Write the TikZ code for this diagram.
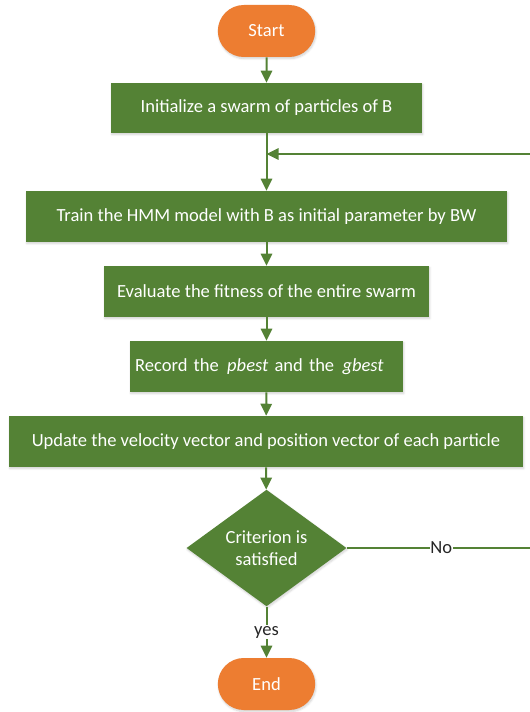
\documentclass[tikz,border=0pt]{standalone}
\usepackage{fontspec}
\setmainfont{Carlito}
\usetikzlibrary{arrows.meta,shapes.misc,shapes.geometric,shadows.blur}
\definecolor{stepgreen}{HTML}{548235}
\definecolor{termorange}{HTML}{ED7D31}
\definecolor{labelgray}{HTML}{262626}
\tikzset{
  softshadow/.style={blur shadow={shadow xshift=0.6pt, shadow yshift=-1.2pt,
      shadow blur radius=1.5pt, shadow blur steps=6, shadow opacity=18}},
  basetext/.style={font=\fontsize{13.9}{16.5}\selectfont, text=white},
  terminal/.style={basetext, rounded rectangle, fill=termorange, draw=none,
      minimum width=73pt, minimum height=39pt, inner sep=0pt, softshadow},
  process/.style={basetext, rectangle, fill=stepgreen, draw=none,
      minimum height=38.25pt, inner sep=0pt, softshadow},
  decision/.style={basetext, diamond, fill=stepgreen, draw=none, align=center,
      minimum width=120pt, minimum height=72.75pt, inner sep=0pt, softshadow},
  flow/.style={draw=stepgreen, line width=1.5pt,
      -{Triangle[width=8.5pt,length=9pt]}},
  plainflow/.style={draw=stepgreen, line width=1.5pt},
  branchlabel/.style={font=\fontsize{13.9}{16.5}\selectfont, text=labelgray,
      fill=white, inner sep=1pt}
}
\begin{document}
\begin{tikzpicture}[x=0.75pt,y=-0.75pt]
  \useasboundingbox (0,0) rectangle (530,712);
  \clip (0,0) rectangle (530,712);

  % flowchart steps
  \node[terminal] (start) at (266.5,31) {Start};
  \node[process, minimum width=233.25pt, minimum height=37.5pt] (init) at (266.5,108)
    {Initialize a swarm of particles of B};
  \node[process, minimum width=360.75pt] (train) at (266.5,216.5)
    {Train the HMM model with B as initial parameter by BW};
  \node[process, minimum width=243.75pt] (eval) at (266.5,291.5)
    {Evaluate the fitness of the entire swarm};
  \node[process, minimum width=204.75pt, text width=197pt, align=left,
        inner xsep=3.9pt] (record) at (266.5,366.5)
    {Record the\hspace{0.45em}\textit{pbest} and the\hspace{0.45em}\textit{gbest}};
  \node[process, minimum width=385.5pt] (update) at (266,441.5)
    {Update the velocity vector and position vector of each particle};
  \node[decision] (crit) at (266.5,548) {Criterion is\\satisfied};
  \node[terminal] (end) at (266.5,684) {End};

  % loop-back route on the right
  \coordinate (turn) at (534,548);
  \coordinate (top) at (534,154);
  \coordinate (join) at (266.5,154);

  % connectors
  \draw[flow] (start) -- (init);
  \draw[flow] (init) -- (train);
  \draw[flow] (train) -- (eval);
  \draw[flow] (eval) -- (record);
  \draw[flow] (record) -- (update);
  \draw[flow] (update) -- (crit);
  \draw[flow] (crit) -- node[branchlabel] {yes} (end);
  \draw[plainflow] (crit.east) -- node[branchlabel, pos=0.505, inner xsep=0.5pt] {No} (turn) -- (top);
  \draw[flow] (top) -- (join);
\end{tikzpicture}
\end{document}
